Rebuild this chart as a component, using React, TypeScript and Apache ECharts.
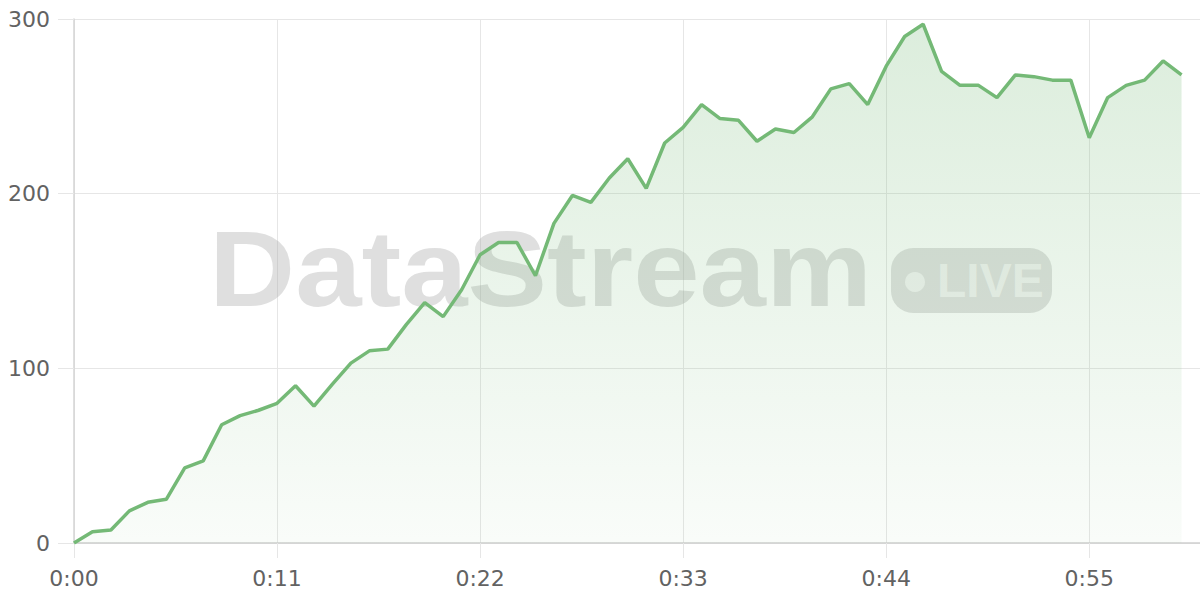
import React, { useEffect, useRef } from "react";
import * as echarts from "echarts";

const seconds: number[] = [
  0, 1, 2, 3, 4, 5, 6, 7, 8, 9, 10, 11, 12, 13, 14, 15, 16, 17, 18, 19, 20,
  21, 22, 23, 24, 25, 26, 27, 28, 29, 30, 31, 32, 33, 34, 35, 36, 37, 38, 39, 40,
  41, 42, 43, 44, 45, 46, 47, 48, 49, 50, 51, 52, 53, 54, 55, 56, 57, 58, 59, 60,
];
const values: number[] = [
  0, 6.5, 7.4, 18.4, 23.3, 25, 43, 47, 67.7, 72.9, 76, 80, 90, 78.4, 91, 103, 110, 111, 125, 137.6, 129.6,
  145, 165, 172, 172, 153, 183, 199, 195, 209, 220, 203, 229, 238, 251, 243, 242, 230, 237, 235, 244,
  260, 263, 251, 273, 290, 297, 270, 262, 262, 255, 268, 267, 265, 265, 232, 255, 262, 265, 276, 268,
];
const yTicks: number[] = [0, 100, 200, 300];
const watermarkTitle = "DataStream";
const watermarkBadge = "LIVE";

const fmt = (v: number) => {
  const m = Math.floor(v / 60);
  const s = Math.round(v % 60);
  return `${m}:${s < 10 ? "0" + s : s}`;
};

export default function App() {
  const ref = useRef<HTMLDivElement>(null);
  useEffect(() => {
    if (!ref.current) return;
    const chart = echarts.init(ref.current, undefined, { renderer: "svg" });
    const labelStyle = {
      color: "#626262",
      fontSize: 22,
      fontFamily: "DejaVu Sans, sans-serif",
    };
    chart.setOption({
      animation: false,
      grid: { left: 74, right: 0, top: 19, bottom: 57 },
      xAxis: {
        type: "value",
        min: 0,
        max: 61,
        interval: 11,
        axisLine: { show: true, onZero: false, lineStyle: { color: "#cfcfcf", width: 1.5 } },
        axisTick: { show: true, length: 15, lineStyle: { color: "#e6e6e6" } },
        axisLabel: { ...labelStyle, margin: 24, showMaxLabel: false, formatter: (v: number) => fmt(v) },
        splitLine: { show: true, lineStyle: { color: "#e6e6e6", width: 1 } },
      },
      yAxis: {
        type: "value",
        min: yTicks[0],
        max: yTicks[yTicks.length - 1],
        interval: 100,
        axisLine: { show: true, lineStyle: { color: "#d4d4d4", width: 1.5 } },
        axisTick: { show: true, length: 16, lineStyle: { color: "#e6e6e6" } },
        axisLabel: { ...labelStyle, margin: 24 },
        splitLine: { show: true, lineStyle: { color: "#e6e6e6", width: 1 } },
      },
      graphic: [
        {
          type: "text",
          z: 1,
          x: 209,
          y: 215,
          scaleX: 1.115,
          style: {
            text: watermarkTitle,
            fontSize: 107,
            fontWeight: "bold",
            fontFamily: "Liberation Sans, sans-serif",
            fill: "rgba(170,170,170,0.38)",
          },
        },
        {
          type: "group",
          z: 1,
          left: 891,
          top: 248,
          children: [
            {
              type: "rect",
              shape: { x: 0, y: 0, width: 161, height: 65, r: 22 },
              style: { fill: "rgba(160,160,160,0.33)" },
            },
            {
              type: "circle",
              shape: { cx: 24, cy: 34, r: 10 },
              style: { fill: "rgba(255,255,255,0.6)" },
            },
            {
              type: "text",
              x: 46,
              y: 8,
              style: {
                text: watermarkBadge,
                fontSize: 48,
                fontWeight: "bold",
                fontFamily: "Liberation Sans, sans-serif",
                fill: "rgba(255,255,255,0.6)",
              },
            },
          ],
        },
      ],
      series: [
        {
          type: "line",
          z: 3,
          data: seconds.map((s, i) => [s, values[i]]),
          showSymbol: false,
          symbol: "none",
          lineStyle: { color: "#74b976", width: 3.5 },
          areaStyle: {
            color: new echarts.graphic.LinearGradient(0, 0, 0, 1, [
              { offset: 0, color: "rgba(116,185,118,0.36)" },
              { offset: 1, color: "rgba(116,185,118,0.06)" },
            ]),
          },
        },
      ],
    });
    return () => chart.dispose();
  }, []);
  return (
    <div
      ref={ref}
      style={{ position: "fixed", left: 0, top: 0, width: 1200, height: 600, background: "#fff" }}
    />
  );
}
